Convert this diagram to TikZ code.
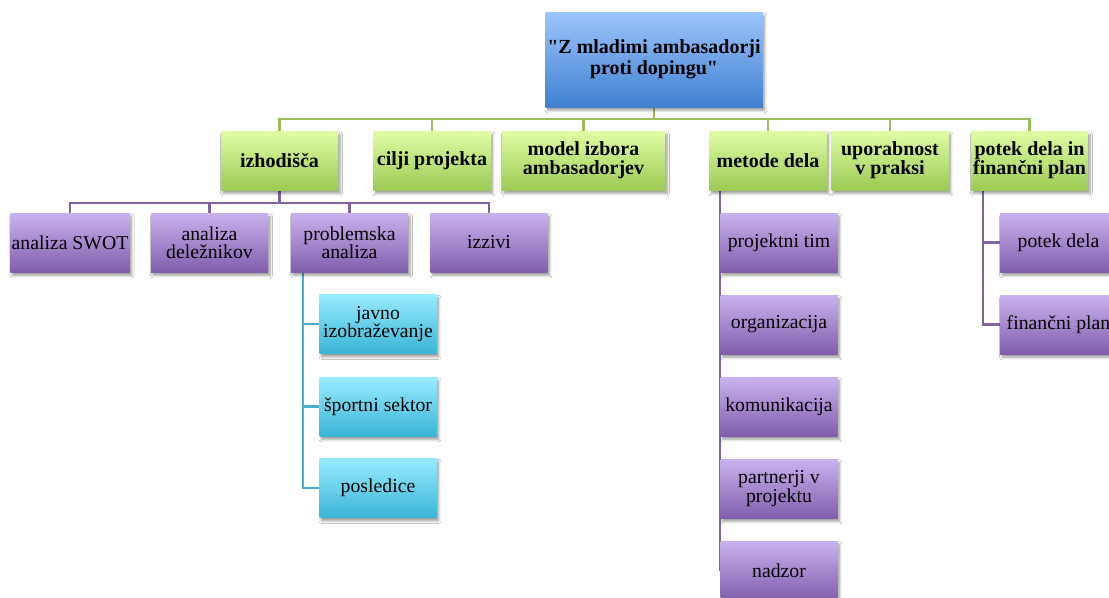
\documentclass[tikz,border=0pt]{standalone}
\usepackage{fontspec}
\setmainfont{Liberation Serif}
\usetikzlibrary{shadows,shadows.blur,backgrounds}
\definecolor{rTop}{RGB}{157,197,252}
\definecolor{rBot}{RGB}{64,128,208}
\definecolor{gTop}{RGB}{224,252,164}
\definecolor{gBot}{RGB}{156,202,84}
\definecolor{pTop}{RGB}{202,178,238}
\definecolor{pBot}{RGB}{128,94,172}
\definecolor{cTop}{RGB}{152,236,255}
\definecolor{cBot}{RGB}{58,180,214}
\definecolor{gLine}{RGB}{155,190,90}
\definecolor{pLine}{RGB}{128,100,162}
\definecolor{cLine}{RGB}{75,172,198}
\begin{document}
\begin{tikzpicture}[x=0.75pt,y=-0.75pt,
  base/.style={inner sep=1pt, align=center, minimum height=44.25pt, minimum width=87.75pt,
    blur shadow={shadow xshift=1.5pt, shadow yshift=-2.5pt, shadow blur steps=6, shadow opacity=40}},
  rootbox/.style={base, top color=rTop, bottom color=rBot, minimum width=162.75pt, minimum height=71.25pt,
    font=\fontsize{15}{15.5}\selectfont\bfseries},
  greenbox/.style={base, top color=gTop, bottom color=gBot, font=\fontsize{15}{14}\selectfont\bfseries},
  purplebox/.style={base, top color=pTop, bottom color=pBot, font=\fontsize{14.8}{13.8}\selectfont},
  cyanbox/.style={base, top color=cTop, bottom color=cBot, font=\fontsize{14.8}{13.8}\selectfont},
  gconn/.style={draw=gLine, line width=1.6pt},
  pconn/.style={draw=pLine, line width=1.6pt},
  cconn/.style={draw=cLine, line width=1.6pt}]
\useasboundingbox (0,0) rectangle (1109,597);
\clip (0,0) rectangle (1109,597);

% bus coordinates
\coordinate (gb) at (0,119);
\coordinate (pb) at (0,203);
\coordinate (cx) at (303,0);
\coordinate (px) at (983,0);

% nodes
\node[rootbox] (root) at (654,59.5) {\textquotedbl Z mladimi ambasadorji\\proti dopingu\textquotedbl};

\node[greenbox] (izh) at (279.5,160.5) {izhodišča};
\node[greenbox] (cilji) at (432,160.5) {cilji projekta};
\node[greenbox, minimum width=122.25pt] (model) at (583.5,160.5) {model izbora\\ambasadorjev};
\node[greenbox] (metode) at (768,160.5) {metode dela};
\node[greenbox] (upor) at (890,160.5) {uporabnost\\v praksi};
\node[greenbox] (potek) at (1029.5,160.5) {potek dela in\\finančni plan};

\node[purplebox] (swot) at (70,242.5) {analiza SWOT};
\node[purplebox] (del) at (209.5,242.5) {analiza\\deležnikov};
\node[purplebox] (prob) at (349.5,242.5) {problemska\\analiza};
\node[purplebox] (izz) at (489,242.5) {izzivi};

\node[cyanbox] (javno) at (378,324) {javno\\izobraževanje};
\node[cyanbox] (sport) at (378,406.5) {športni sektor};
\node[cyanbox] (posl) at (378,488) {posledice};

\node[purplebox] (ptim) at (779,242.5) {projektni tim};
\node[purplebox] (org) at (779,324.5) {organizacija};
\node[purplebox] (kom) at (779,406.5) {komunikacija};
\node[purplebox] (part) at (779,488.5) {partnerji v\\projektu};
\node[purplebox] (nadz) at (779,570.5) {nadzor};

\node[purplebox] (pdela) at (1058.5,242.5) {potek dela};
\node[purplebox] (fplan) at (1058.5,324.5) {finančni plan};

% connectors behind the boxes
\begin{pgfonlayer}{background}
\fill[white] (0,0) rectangle (1109,597);
\draw[gconn] (root.south) -- (root.south |- gb) -| (izh.north);
\draw[gconn] (root.south |- gb) -| (cilji.north);
\draw[gconn] (root.south |- gb) -| (model.north);
\draw[gconn] (root.south |- gb) -| (metode.north);
\draw[gconn] (root.south |- gb) -| (upor.north);
\draw[gconn] (root.south |- gb) -| (potek.north);

\draw[pconn] (izh.south) -- (izh.south |- pb) -| (swot.north);
\draw[pconn] (izh.south |- pb) -| (del.north);
\draw[pconn] (izh.south |- pb) -| (prob.north);
\draw[pconn] (izh.south |- pb) -| (izz.north);

\draw[cconn] (prob.south -| cx) |- (javno.west);
\draw[cconn] (prob.south -| cx) |- (sport.west);
\draw[cconn] (prob.south -| cx) |- (posl.west);

\draw[pconn] (metode.south -| ptim.west) -- (nadz.west);

\draw[pconn] (potek.south -| px) |- (pdela.west);
\draw[pconn] (potek.south -| px) |- (fplan.west);
\end{pgfonlayer}
\end{tikzpicture}
\end{document}
